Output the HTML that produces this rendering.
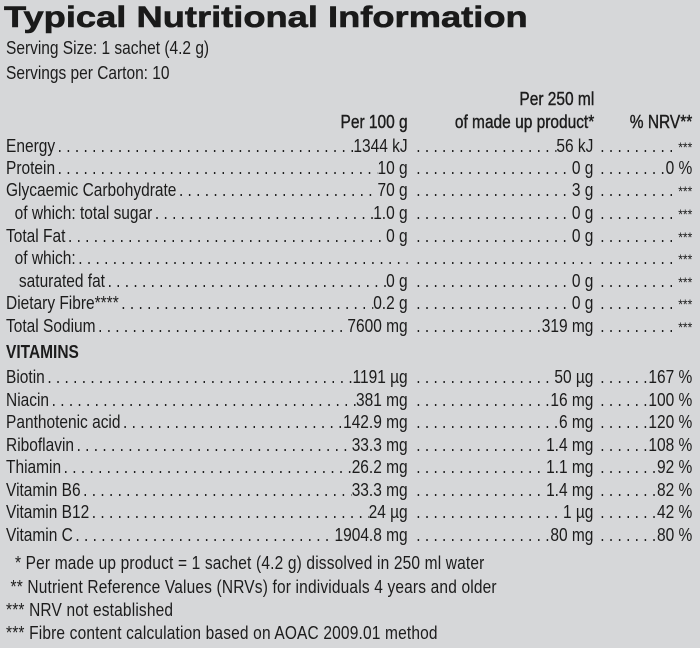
<!DOCTYPE html>
<html><head><meta charset="utf-8"><style>
body{margin:0;background:#d6d7d9;}
#p{position:relative;width:700px;height:648px;overflow:hidden;background:#d6d7d9;color:#1c1c1c;font-family:"Liberation Sans",sans-serif;font-size:18px;}
#w{position:absolute;left:0;top:0;width:814px;height:648px;transform:scaleX(0.86);transform-origin:0 0;}
.t{position:absolute;left:4px;top:1px;font-family:"Liberation Sans",sans-serif;font-weight:bold;font-size:30px;transform:scaleX(1.21);transform-origin:left;color:#1a1a1a;-webkit-text-stroke:0.6px #1a1a1a;}
.l{position:absolute;left:7px;white-space:nowrap;line-height:20px;}
.h{position:absolute;white-space:nowrap;line-height:20px;text-align:right;-webkit-text-stroke:0.4px #1c1c1c;}
.r{position:absolute;left:0;width:814px;height:20px;line-height:20px;}
.s{position:absolute;top:0;display:flex;white-space:nowrap;}
.s .d{flex:1;overflow:hidden;padding:0 3px;}
.s .d::after{content:". . . . . . . . . . . . . . . . . . . . . . . . . . . . . . . . . . . . . . . . . . . . . . . . . . . . . . . . . . . . . . . . . . . . . . . . . . . . . . . . . . . . . . . . . . . . . . . . . . . . . .";}
.a{left:7px;width:467px}
.b{left:481px;width:209px}
.c{left:695px;width:110px}
.st{font-size:14px;}
.f{letter-spacing:0.2px;}
</style></head><body><div id="p">
<div class="t">Typical Nutritional Information</div>
<div id="w">
<div class="l" style="top:38px">Serving Size: 1 sachet (4.2 g)</div>
<div class="l" style="top:63px">Servings per Carton: 10</div>
<div class="h" style="top:89px;right:123px">Per 250 ml</div>
<div class="h" style="top:112px;right:340px">Per 100 g</div>
<div class="h" style="top:112px;right:123px">of made up product*</div>
<div class="h" style="top:112px;right:9px">% NRV**</div>
<div id="rows"></div>
<div class="l" style="top:342px;font-weight:bold">VITAMINS</div>
<div class="l f" style="top:553px">&nbsp;&nbsp;* Per made up product = 1 sachet (4.2 g) dissolved in 250 ml water</div>
<div class="l f" style="top:577px">&nbsp;** Nutrient Reference Values (NRVs) for individuals 4 years and older</div>
<div class="l f" style="top:600px">*** NRV not established</div>
<div class="l f" style="top:623px">*** Fibre content calculation based on AOAC 2009.01 method</div>
</div></div>
<script>
var S='<span class="st">***</span>';
var rows=[
["Energy","1344 kJ","56 kJ",S],
["Protein","10 g","0 g","0 %"],
["Glycaemic Carbohydrate","70 g","3 g",S],
["&nbsp;&nbsp;of which: total sugar","1.0 g","0 g",S],
["Total Fat","0 g","0 g",S],
["&nbsp;&nbsp;of which:","","",S],
["&nbsp;&nbsp;&nbsp;saturated fat","0 g","0 g",S],
["Dietary Fibre****","0.2 g","0 g",S],
["Total Sodium","7600 mg","319 mg",S],
null,
["Biotin","1191 µg","50 µg","167 %"],
["Niacin","381 mg","16 mg","100 %"],
["Panthotenic acid","142.9 mg","6 mg","120 %"],
["Riboflavin","33.3 mg","1.4 mg","108 %"],
["Thiamin","26.2 mg","1.1 mg","92 %"],
["Vitamin B6","33.3 mg","1.4 mg","82 %"],
["Vitamin B12","24 µg","1 µg","42 %"],
["Vitamin C","1904.8 mg","80 mg","80 %"]];
var tops=[136,158,180,203,226,248,271,293,316,0,367,390,412,435,457,480,502,525];
var h='';
rows.forEach(function(r,i){if(!r)return;
h+='<div class="r" style="top:'+tops[i]+'px">'+
'<div class="s a"><span>'+r[0]+'</span><span class="d"></span><span>'+r[1]+'</span></div>'+
'<div class="s b"><span class="d"></span><span>'+r[2]+'</span></div>'+
'<div class="s c"><span class="d"></span><span>'+r[3]+'</span></div></div>';});
document.getElementById('rows').innerHTML=h;
</script>
</body></html>
